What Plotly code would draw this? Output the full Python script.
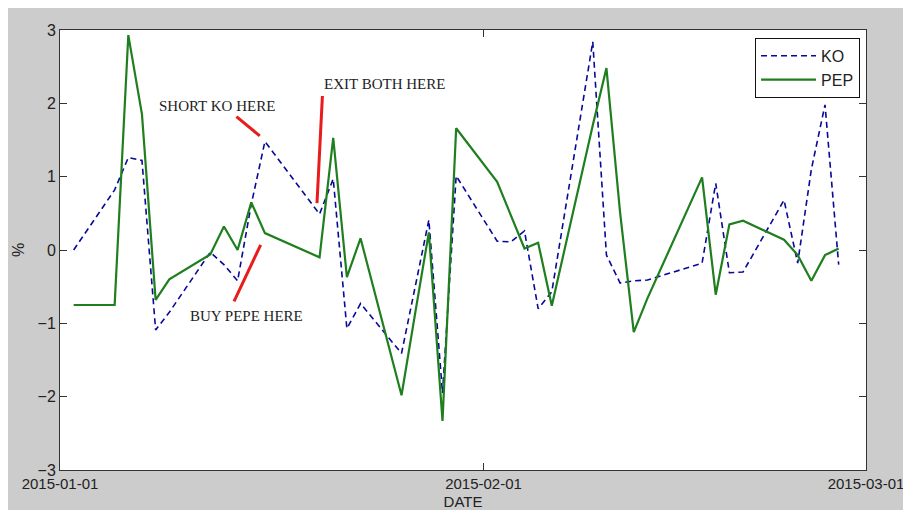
import plotly.graph_objects as go

dates = ["2015-01-02", "2015-01-05", "2015-01-06", "2015-01-07", "2015-01-08", "2015-01-09",
         "2015-01-12", "2015-01-13", "2015-01-14", "2015-01-15", "2015-01-16",
         "2015-01-20", "2015-01-21", "2015-01-22", "2015-01-23",
         "2015-01-26", "2015-01-27", "2015-01-28", "2015-01-29", "2015-01-30",
         "2015-02-02", "2015-02-03", "2015-02-04", "2015-02-05", "2015-02-06",
         "2015-02-09", "2015-02-10", "2015-02-11", "2015-02-12", "2015-02-13",
         "2015-02-17", "2015-02-18", "2015-02-19", "2015-02-20",
         "2015-02-23", "2015-02-24", "2015-02-25", "2015-02-26", "2015-02-27"]

ko = [0.00, 0.82, 1.26, 1.22, -1.09, -0.85,
      -0.03, -0.20, -0.42, 0.62, 1.48,
      0.49, 0.97, -1.07, -0.73,
      -1.41, -0.50, 0.41, -1.95, 1.01,
      0.12, 0.11, 0.26, -0.80, -0.57,
      2.84, -0.07, -0.45, -0.42, -0.41,
      -0.18, 0.91, -0.31, -0.30,
      0.68, -0.18, 1.10, 1.98, -0.20]

pep = [-0.75, -0.75, 2.93, 1.85, -0.68, -0.40,
       -0.06, 0.32, 0.00, 0.65, 0.23,
       -0.10, 1.53, -0.37, 0.16,
       -1.98, -0.86, 0.24, -2.33, 1.66,
       0.93, 0.47, 0.02, 0.10, -0.76,
       1.70, 2.48, 0.51, -1.12, -0.66,
       0.99, -0.61, 0.35, 0.40,
       0.14, -0.07, -0.42, -0.07, 0.02]

x_ticks = ["2015-01-01", "2015-02-01", "2015-03-01"]
y_ticks = [-3, -2, -1, 0, 1, 2, 3]

# annotation texts and their anchor points (data coordinates)
notes = [
    ("SHORT KO HERE", "2015-01-12 11:30", 1.96),
    ("EXIT BOTH HERE", "2015-01-24 18:00", 2.26),
    ("BUY PEPE HERE", "2015-01-14 16:00", -0.90),
]
# red pointer segments (data coordinates)
pointers = [
    ("2015-01-13 22:00", 1.82, "2015-01-15 15:00", 1.555),
    ("2015-01-13 17:45", -0.70, "2015-01-15 16:30", 0.07),
    ("2015-01-20 05:00", 2.10, "2015-01-19 19:30", 0.64),
]

fig = go.Figure()
fig.add_trace(go.Scatter(x=dates, y=ko, mode="lines", name="KO",
                         line=dict(color="#08089a", width=1.6, dash="6px,4px")))
fig.add_trace(go.Scatter(x=dates, y=pep, mode="lines", name="PEP",
                         line=dict(color="#1f7f1f", width=2.2)))

for x0, y0, x1, y1 in pointers:
    fig.add_shape(type="line", xref="x", yref="y", x0=x0, y0=y0, x1=x1, y1=y1,
                  line=dict(color="#e81c1c", width=3))

for txt, x, y in notes:
    fig.add_annotation(x=x, y=y, xref="x", yref="y", text=txt, showarrow=False,
                       font=dict(family="Liberation Serif, Times New Roman, serif", size=15, color="#222"))

axis_font = dict(family="Liberation Sans, Arial", size=15, color="#222")

fig.update_layout(
    width=895, height=502,
    margin=dict(l=52, r=37, t=22, b=40),
    paper_bgcolor="#cccccc",
    plot_bgcolor="white",
    showlegend=True,
    legend=dict(x=0.9926, y=0.982, xanchor="right", yanchor="top",
                bgcolor="white", bordercolor="#111", borderwidth=1,
                font=dict(family="Liberation Sans, Arial", size=16, color="#222"),
                itemwidth=55, tracegroupgap=0),
    xaxis=dict(type="date", range=["2015-01-01", "2015-03-01"],
               tickvals=x_ticks, ticktext=x_ticks,
               ticks="inside", ticklen=7, tickcolor="#333",
               showline=True, linecolor="#333", linewidth=1, mirror="ticks",
               showgrid=False, zeroline=False, tickfont=axis_font,
               ticklabeloverflow="allow", automargin=False,
               title=dict(text="DATE", font=axis_font, standoff=8)),
    yaxis=dict(range=[-3, 3], tickvals=y_ticks,
               ticks="inside", ticklen=7, tickcolor="#333",
               showline=True, linecolor="#333", linewidth=1, mirror="ticks",
               showgrid=False, zeroline=False, tickfont=dict(axis_font, size=16),
               automargin=False,
               title=dict(text="%", font=dict(axis_font, size=16), standoff=8)),
)

fig.write_html("out.html")
